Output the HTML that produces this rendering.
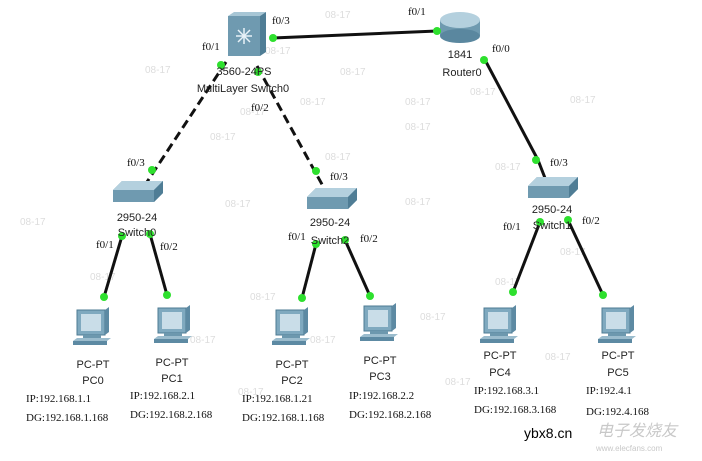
<!DOCTYPE html>
<html><head><meta charset="utf-8"><style>
body{margin:0;background:#fff;}
svg{display:block;}
.l{font-family:"Liberation Sans",sans-serif;font-size:11px;fill:#222;}
.p{font-family:"Liberation Serif",serif;font-size:11px;fill:#111;}
.w{font-family:"Liberation Sans",sans-serif;font-size:10px;fill:#ddd;}
</style></head><body>
<svg width="702" height="461" viewBox="0 0 702 461" xmlns="http://www.w3.org/2000/svg">
<defs>
<g id="pc">
<rect x="-16" y="-30" width="28" height="25" fill="#7fa9bf" stroke="#4d7b93"/>
<rect x="-12" y="-26" width="20" height="17" fill="#c9dde8"/>
<polygon points="12,-30 16,-33 16,-8 12,-5" fill="#5d8aa3"/>
<rect x="-10" y="-5" width="18" height="4" fill="#6d98ae"/>
<polygon points="-20,1 14,1 18,-2 -16,-2" fill="#9bbccd"/>
<rect x="-20" y="1" width="34" height="4" fill="#5d8aa3"/>
</g>
<g id="sw">
<polygon points="0,9 9,0 50,0 50,12 41,21 0,21" fill="#6f9ab0"/>
<polygon points="0,9 9,0 50,0 41,9" fill="#b4d0de"/>
<polygon points="41,9 50,0 50,12 41,21" fill="#4f7d95"/>
</g>
</defs>
<g class="w">
<text x="325" y="18">08-17</text><text x="265" y="54">08-17</text><text x="340" y="75">08-17</text>
<text x="240" y="115">08-17</text><text x="300" y="105">08-17</text><text x="405" y="105">08-17</text>
<text x="405" y="130">08-17</text><text x="470" y="95">08-17</text><text x="145" y="73">08-17</text>
<text x="210" y="140">08-17</text><text x="325" y="160">08-17</text><text x="225" y="207">08-17</text>
<text x="405" y="205">08-17</text><text x="495" y="170">08-17</text><text x="560" y="255">08-17</text>
<text x="495" y="285">08-17</text><text x="90" y="280">08-17</text><text x="250" y="300">08-17</text>
<text x="190" y="343">08-17</text><text x="310" y="343">08-17</text><text x="420" y="320">08-17</text>
<text x="545" y="360">08-17</text><text x="445" y="385">08-17</text><text x="238" y="395">08-17</text>
<text x="570" y="103">08-17</text><text x="20" y="225">08-17</text>
</g>
<g stroke="#111" stroke-width="3" fill="none">
<line x1="273" y1="38" x2="437" y2="31"/>
<line x1="484" y1="58" x2="538" y2="160"/>
<line x1="538" y1="160" x2="545" y2="178"/>
<line x1="122" y1="236" x2="104" y2="297"/>
<line x1="150" y1="234" x2="167" y2="295"/>
<line x1="316" y1="244" x2="302" y2="298"/>
<line x1="345" y1="240" x2="370" y2="296"/>
<line x1="540" y1="222" x2="513" y2="292"/>
<line x1="568" y1="220" x2="603" y2="295"/>
</g>
<g stroke="#111" stroke-width="3" fill="none" stroke-dasharray="9,5">
<line x1="226" y1="62" x2="145" y2="185"/>
<line x1="257" y1="66" x2="324" y2="188"/>
</g>
<rect x="228" y="16" width="32" height="40" fill="#6f9ab0"/>
<polygon points="228,16 234,12 266,12 260,16" fill="#a7c6d5"/>
<polygon points="260,16 266,12 266,52 260,56" fill="#4f7d95"/>
<g stroke="#e8f2f8" stroke-width="1.5"><line x1="236" y1="36" x2="252" y2="36"/><line x1="244" y1="28" x2="244" y2="44"/><line x1="238" y1="30" x2="250" y2="42"/><line x1="250" y1="30" x2="238" y2="42"/></g>
<rect x="440" y="20" width="40" height="16" fill="#6f9ab0"/>
<ellipse cx="460" cy="36" rx="20" ry="7" fill="#5a879f"/>
<ellipse cx="460" cy="20" rx="20" ry="8" fill="#b4d0de"/>
<use href="#sw" x="113" y="181"/><use href="#sw" x="307" y="188"/><use href="#sw" x="528" y="177"/>
<g fill="#2ee02e">
<circle cx="273" cy="38" r="4"/><circle cx="437" cy="31" r="4"/><circle cx="484" cy="60" r="4"/>
<circle cx="221" cy="65" r="4"/><circle cx="258" cy="72" r="4"/><circle cx="152" cy="170" r="4"/>
<circle cx="316" cy="171" r="4"/><circle cx="536" cy="160" r="4"/>
<circle cx="122" cy="236" r="4"/><circle cx="150" cy="234" r="4"/><circle cx="104" cy="297" r="4"/><circle cx="167" cy="295" r="4"/>
<circle cx="316" cy="244" r="4"/><circle cx="345" cy="240" r="4"/><circle cx="302" cy="298" r="4"/><circle cx="370" cy="296" r="4"/>
<circle cx="540" cy="222" r="4"/><circle cx="568" cy="220" r="4"/><circle cx="513" cy="292" r="4"/><circle cx="603" cy="295" r="4"/>
</g>
<use href="#pc" x="93" y="340"/><use href="#pc" x="174" y="338"/><use href="#pc" x="292" y="340"/>
<use href="#pc" x="380" y="336"/><use href="#pc" x="500" y="338"/><use href="#pc" x="618" y="338"/>
<g class="p">
<text x="272" y="24">f0/3</text><text x="202" y="50">f0/1</text><text x="408" y="15">f0/1</text><text x="492" y="52">f0/0</text>
<text x="251" y="111">f0/2</text><text x="330" y="180">f0/3</text><text x="127" y="166">f0/3</text><text x="550" y="166">f0/3</text>
<text x="96" y="248">f0/1</text><text x="160" y="250">f0/2</text><text x="288" y="240">f0/1</text><text x="360" y="242">f0/2</text>
<text x="503" y="230">f0/1</text><text x="582" y="224">f0/2</text>
</g>
<g class="l" text-anchor="middle">
<text x="244" y="75">3560-24PS</text><text x="243" y="92">MultiLayer Switch0</text>
<text x="460" y="58">1841</text><text x="462" y="76">Router0</text>
<text x="137" y="221">2950-24</text><text x="137" y="236">Switch0</text>
<text x="330" y="226">2950-24</text><text x="330" y="244">Switch2</text>
<text x="552" y="213">2950-24</text><text x="552" y="229">Switch1</text>
<text x="93" y="368">PC-PT</text><text x="93" y="384">PC0</text>
<text x="172" y="366">PC-PT</text><text x="172" y="382">PC1</text>
<text x="292" y="368">PC-PT</text><text x="292" y="384">PC2</text>
<text x="380" y="364">PC-PT</text><text x="380" y="380">PC3</text>
<text x="500" y="359">PC-PT</text><text x="500" y="376">PC4</text>
<text x="618" y="359">PC-PT</text><text x="618" y="376">PC5</text>
</g>
<g class="p">
<text x="26" y="402">IP:192.168.1.1</text><text x="26" y="421">DG:192.168.1.168</text>
<text x="130" y="399">IP:192.168.2.1</text><text x="130" y="418">DG:192.168.2.168</text>
<text x="242" y="402">IP:192.168.1.21</text><text x="242" y="421">DG:192.168.1.168</text>
<text x="349" y="399">IP:192.168.2.2</text><text x="349" y="418">DG:192.168.2.168</text>
<text x="474" y="394">IP:192.168.3.1</text><text x="474" y="413">DG:192.168.3.168</text>
<text x="586" y="394">IP:192.4.1</text><text x="586" y="415">DG:192.4.168</text>
</g>
<text x="524" y="438" font-family="Liberation Sans,sans-serif" font-size="14" fill="#000">ybx8.cn</text>
<text x="597" y="436" font-family="Liberation Sans,'Noto Sans CJK SC',sans-serif" font-size="16" fill="#c8c8c8" font-style="italic">电子发烧友</text>
<text x="596" y="451" font-family="Liberation Sans,sans-serif" font-size="8" fill="#c8c8c8">www.elecfans.com</text>
</svg>
</body></html>
